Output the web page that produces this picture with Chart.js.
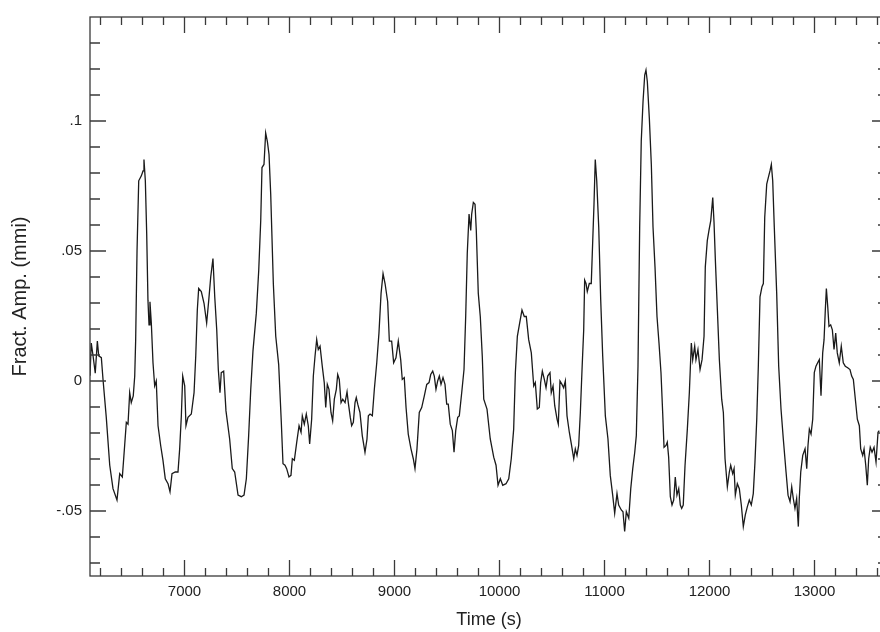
<!DOCTYPE html>
<html>
<head>
<meta charset="utf-8">
<title>Fract. Amp. vs Time</title>
<script src="https://cdn.jsdelivr.net/npm/chart.js@4.4.1/dist/chart.umd.min.js"></script>
<style>
  html, body { margin: 0; padding: 0; background: #fff; overflow: hidden; }
  canvas { display: block; }
</style>
</head>
<body>
<canvas id="ampChart" width="889" height="632"></canvas>
<script>
// time axis (s) and fractional amplitude (mmi)
const timeSec = [
  6100, 6112, 6129, 6150, 6170, 6183, 6208, 6224, 6255, 6288, 6319, 6357, 6383, 6408, 6430, 6446,
  6462, 6478, 6493, 6512, 6526, 6535, 6548, 6564, 6589, 6605, 6614, 6627, 6640, 6652, 6662, 6671,
  6684, 6700, 6716, 6731, 6748, 6773, 6795, 6817, 6843, 6862, 6881, 6912, 6938, 6954, 6970, 6983,
  7002, 7014, 7033, 7065, 7091, 7107, 7122, 7135, 7160, 7186, 7211, 7231, 7250, 7271, 7288, 7307,
  7322, 7338, 7350, 7373, 7395, 7430, 7455, 7478, 7510, 7541, 7567, 7589, 7611, 7631, 7652, 7684,
  7707, 7726, 7738, 7757, 7773, 7789, 7805, 7821, 7846, 7869, 7897, 7922, 7938, 7957, 7973, 7995,
  8014, 8027, 8046, 8069, 8091, 8110, 8122, 8141, 8160, 8179, 8192, 8211, 8227, 8243, 8259, 8274,
  8291, 8312, 8331, 8345, 8360, 8376, 8395, 8411, 8427, 8446, 8459, 8474, 8491, 8507, 8529, 8548,
  8560, 8579, 8592, 8608, 8624, 8636, 8650, 8671, 8693, 8719, 8738, 8751, 8767, 8789, 8808, 8831,
  8852, 8872, 8891, 8910, 8935, 8951, 8973, 8992, 9014, 9036, 9059, 9074, 9093, 9110, 9131, 9157,
  9179, 9195, 9214, 9236, 9259, 9284, 9307, 9329, 9345, 9364, 9379, 9395, 9411, 9427, 9443, 9462,
  9481, 9497, 9512, 9531, 9551, 9567, 9583, 9602, 9617, 9640, 9662, 9678, 9693, 9710, 9726, 9735,
  9751, 9767, 9779, 9798, 9817, 9836, 9850, 9881, 9912, 9945, 9967, 9986, 10008, 10031, 10062, 10088,
  10112, 10135, 10151, 10170, 10189, 10214, 10236, 10255, 10278, 10303, 10326, 10341, 10360, 10379, 10392, 10408,
  10427, 10443, 10459, 10481, 10493, 10510, 10526, 10548, 10560, 10576, 10595, 10611, 10627, 10643, 10665, 10684,
  10707, 10722, 10738, 10754, 10770, 10786, 10802, 10811, 10824, 10836, 10855, 10874, 10888, 10900, 10912, 10926,
  10945, 10964, 10983, 11008, 11033, 11055, 11078, 11097, 11119, 11135, 11160, 11176, 11192, 11208, 11231, 11250,
  11269, 11288, 11303, 11319, 11335, 11350, 11367, 11383, 11395, 11408, 11427, 11446, 11462, 11481, 11500, 11519,
  11538, 11554, 11567, 11586, 11598, 11611, 11627, 11643, 11659, 11674, 11690, 11707, 11722, 11735, 11750, 11767,
  11789, 11808, 11827, 11840, 11859, 11871, 11890, 11910, 11929, 11948, 11960, 11979, 11995, 12012, 12031, 12043,
  12056, 12075, 12094, 12116, 12132, 12148, 12170, 12189, 12202, 12221, 12234, 12246, 12265, 12284, 12303, 12322,
  12341, 12360, 12379, 12398, 12417, 12433, 12450, 12465, 12481, 12500, 12513, 12526, 12545, 12560, 12576, 12589,
  12602, 12617, 12640, 12659, 12681, 12703, 12729, 12748, 12767, 12783, 12798, 12814, 12830, 12846, 12855, 12869,
  12888, 12910, 12926, 12938, 12951, 12967, 12983, 12998, 13014, 13030, 13046, 13062, 13078, 13091, 13103, 13113,
  13126, 13138, 13154, 13170, 13186, 13202, 13217, 13236, 13255, 13274, 13293, 13316, 13338, 13354, 13370, 13389,
  13408, 13427, 13440, 13459, 13472, 13488, 13503, 13516, 13531, 13548, 13567, 13586, 13605, 13617
];

const fractAmp = [
  0.002, 0.0146, 0.0097, 0.003, 0.0154, 0.0097, 0.009, 0.0006, -0.014, -0.0324, -0.0414, -0.0458, -0.0356, -0.0369, -0.0248, -0.0159,
  -0.0166, -0.0045, -0.0083, -0.0057, 0.0019, 0.0159, 0.0502, 0.077, 0.0789, 0.0808, 0.0852, 0.077, 0.0566, 0.0311, 0.0216, 0.0305,
  0.0223, 0.007, -0.0019, 0, -0.0172, -0.0248, -0.0305, -0.0376, -0.0395, -0.0426, -0.0356, -0.035, -0.035, -0.0261, -0.0134, 0.0019,
  -0.0019, -0.0172, -0.014, -0.0127, -0.0045, 0.0095, 0.0273, 0.0356, 0.0344, 0.0299, 0.0223, 0.0311, 0.0401, 0.0471, 0.0324, 0.0197,
  0.0044, -0.0045, 0.0032, 0.0038, -0.0115, -0.0223, -0.0337, -0.035, -0.0439, -0.0445, -0.0439, -0.0376, -0.021, -0.0032, 0.0115, 0.0261,
  0.0426, 0.0617, 0.0821, 0.0833, 0.0954, 0.0922, 0.0871, 0.0719, 0.0375, 0.0172, 0.0063, -0.0159, -0.0318, -0.0324, -0.0337, -0.0369,
  -0.0363, -0.0299, -0.0305, -0.0235, -0.0172, -0.0197, -0.0134, -0.0166, -0.0127, -0.0172, -0.0242, -0.0147, 0.0019, 0.0095, 0.0159, 0.0121,
  0.0134, 0.0057, -0.0006, -0.0102, -0.0013, -0.0032, -0.0121, -0.0153, -0.007, -0.0032, 0.0025, 0.0006, -0.0083, -0.007, -0.0083, -0.0042,
  -0.0083, -0.014, -0.0172, -0.0159, -0.0083, -0.0064, -0.0089, -0.0121, -0.021, -0.0274, -0.0223, -0.0134, -0.0127, -0.0134, -0.0032, 0.007,
  0.0184, 0.0337, 0.0413, 0.0375, 0.0305, 0.0153, 0.0153, 0.007, 0.0089, 0.0153, 0.0082, 0.0006, 0.0013, -0.0102, -0.0204, -0.0261,
  -0.0299, -0.0337, -0.0261, -0.0121, -0.0102, -0.0057, -0.0013, -0.0006, 0.0025, 0.0038, 0.0019, -0.0032, 0, 0.0019, -0.0013, 0.0013,
  -0.0013, -0.0089, -0.0089, -0.0166, -0.0191, -0.0274, -0.0191, -0.014, -0.0134, -0.0045, 0.0044, 0.0248, 0.049, 0.0642, 0.0579, 0.0642,
  0.0687, 0.068, 0.0579, 0.0337, 0.0248, 0.0095, -0.007, -0.0108, -0.0223, -0.0293, -0.0324, -0.0401, -0.0376, -0.0401, -0.0395, -0.0376,
  -0.0299, -0.0185, 0.0032, 0.0172, 0.0216, 0.0273, 0.0248, 0.0248, 0.0159, 0.0108, -0.0019, -0.0006, -0.0108, -0.0102, -0.0006, 0.0038,
  0.0006, -0.0026, 0.0019, 0.0032, -0.0045, -0.0019, -0.0095, -0.0147, -0.0166, 0, -0.0013, -0.0026, 0, -0.0134, -0.0197, -0.0242,
  -0.0299, -0.0261, -0.0286, -0.0248, -0.0121, 0.0044, 0.0197, 0.0388, 0.0375, 0.0344, 0.0375, 0.0375, 0.054, 0.068, 0.0852, 0.077,
  0.0592, 0.0311, 0.0095, -0.0134, -0.0223, -0.0363, -0.0439, -0.0509, -0.0433, -0.0477, -0.0496, -0.0503, -0.0579, -0.0503, -0.0528, -0.0414,
  -0.0337, -0.0274, -0.021, 0.0057, 0.0592, 0.0922, 0.1075, 0.1177, 0.1196, 0.1151, 0.1011, 0.0833, 0.0592, 0.0439, 0.0248, 0.0146,
  0.0032, -0.0121, -0.0255, -0.0248, -0.0235, -0.0293, -0.0445, -0.0477, -0.0458, -0.0369, -0.0439, -0.0414, -0.0477, -0.049, -0.0477, -0.0324,
  -0.0185, -0.0045, 0.0146, 0.0082, 0.0134, 0.0082, 0.0121, 0.0044, 0.0082, 0.0172, 0.0439, 0.054, 0.0579, 0.0617, 0.0706, 0.0611,
  0.0464, 0.0273, 0.0082, -0.007, -0.0121, -0.0299, -0.0407, -0.035, -0.0324, -0.0356, -0.0337, -0.0439, -0.0395, -0.0414, -0.0477, -0.056,
  -0.0515, -0.0484, -0.0458, -0.0477, -0.0433, -0.0312, -0.0147, 0.0057, 0.0324, 0.0363, 0.0375, 0.063, 0.0757, 0.0782, 0.0808, 0.0833,
  0.077, 0.0592, 0.0337, 0.0057, -0.0108, -0.0223, -0.035, -0.0439, -0.0464, -0.0407, -0.0452, -0.049, -0.0452, -0.056, -0.0452, -0.035,
  -0.0286, -0.0261, -0.0337, -0.0248, -0.0185, -0.0204, -0.0147, 0.0032, 0.0057, 0.007, 0.0082, -0.0057, 0.0108, 0.0159, 0.0273, 0.0356,
  0.0286, 0.021, 0.0216, 0.0197, 0.0121, 0.0184, 0.0108, 0.007, 0.0134, 0.007, 0.0057, 0.0051, 0.0044, 0.0019, 0.0006, -0.007,
  -0.0147, -0.0172, -0.0261, -0.0286, -0.0261, -0.0324, -0.0401, -0.0299, -0.0255, -0.0274, -0.0255, -0.0312, -0.0197, -0.0191
];

// axis ticks
const xTicks = [7000, 8000, 9000, 10000, 11000, 12000, 13000];
const xTickLabels = ['7000', '8000', '9000', '10000', '11000', '12000', '13000'];
const yTicks = [-0.05, 0, 0.05, 0.1];
const yTickLabels = ['-.05', '0', '.05', '.1'];
const xMinorStep = 200;
const yMinorStep = 0.01;

const X_MIN = 6100, X_MAX = 13700;
const Y_MIN = -0.075, Y_MAX = 0.14;

const fontFamily = '"Liberation Sans", Arial, Helvetica, sans-serif';
const inkColor = '#222';

// box round the plot with inward ticks on all four sides
const frameTicks = {
    id: 'frameTicks',
    afterDatasetsDraw(chart) {
        const { ctx, chartArea: a, scales: { x, y } } = chart;
        ctx.save();
        ctx.strokeStyle = '#3a3a3a';
        ctx.lineWidth = 1.3;
        ctx.strokeRect(a.left, a.top, a.right - a.left, a.bottom - a.top);

        ctx.beginPath();
        // x: every 200 s, long marks at the labelled ticks
        const first = Math.ceil(X_MIN / xMinorStep);
        const last = Math.floor(X_MAX / xMinorStep);
        for (let i = first; i <= last; i++) {
            const v = i * xMinorStep;
            if (v <= X_MIN || v >= X_MAX) continue;
            const len = xTicks.includes(v) ? 16 : 8;
            const px = x.getPixelForValue(v);
            ctx.moveTo(px, a.bottom); ctx.lineTo(px, a.bottom - len);
            ctx.moveTo(px, a.top); ctx.lineTo(px, a.top + len);
        }
        // y: every .01, long marks every .05
        for (let k = -7; k <= 13; k++) {
            const v = k * yMinorStep;
            const len = k % 5 === 0 ? 16 : 10;
            const py = y.getPixelForValue(v);
            ctx.moveTo(a.left, py); ctx.lineTo(a.left + len, py);
            ctx.moveTo(a.right, py); ctx.lineTo(a.right - len, py);
        }
        ctx.stroke();
        ctx.restore();
    }
};

const ctx = document.getElementById('ampChart').getContext('2d');
const ampChart = new Chart(ctx, {
    type: 'line',
    data: {
        datasets: [{
            data: timeSec.map((t, i) => ({ x: t, y: fractAmp[i] })),
            borderColor: '#1a1a1a',
            borderWidth: 1.3,
            pointRadius: 0,
            tension: 0,
            fill: false
        }]
    },
    options: {
        responsive: false,
        animation: false,
        layout: { padding: { top: 13, right: 1, left: 0, bottom: 0 } },
        plugins: { legend: { display: false }, tooltip: { enabled: false } },
        scales: {
            x: {
                type: 'linear',
                min: X_MIN,
                max: X_MAX,
                afterFit(scale) { scale.height = 56; },
                afterBuildTicks(scale) { scale.ticks = xTicks.map(v => ({ value: v })); },
                grid: { display: false, drawTicks: false },
                border: { display: false },
                ticks: {
                    padding: 7,
                    autoSkip: false,
                    maxRotation: 0,
                    color: inkColor,
                    font: { family: fontFamily, size: 15 },
                    callback: (v) => xTickLabels[xTicks.indexOf(v)]
                },
                title: {
                    display: true,
                    text: 'Time (s)',
                    color: inkColor,
                    font: { family: fontFamily, size: 18 },
                    padding: { top: 0, bottom: 1 }
                }
            },
            y: {
                min: Y_MIN,
                max: Y_MAX,
                afterFit(scale) { scale.width = 90; },
                afterBuildTicks(scale) { scale.ticks = yTicks.map(v => ({ value: v })); },
                grid: { display: false, drawTicks: false },
                border: { display: false },
                ticks: {
                    padding: 8,
                    color: inkColor,
                    font: { family: fontFamily, size: 15 },
                    callback: (v) => yTickLabels[yTicks.indexOf(v)]
                },
                title: {
                    display: true,
                    text: 'Fract. Amp. (mmi)',
                    color: inkColor,
                    font: { family: fontFamily, size: 20 },
                    padding: { top: 8, bottom: 0 }
                }
            }
        }
    },
    plugins: [frameTicks]
});
</script>
</body>
</html>
